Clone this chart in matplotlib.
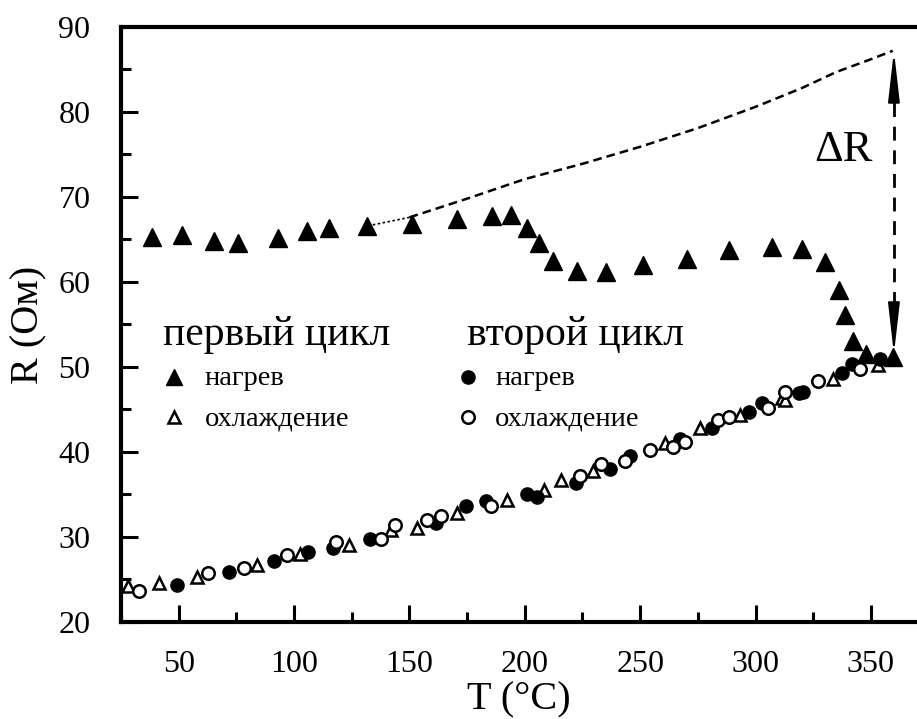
import numpy as np
import matplotlib.pyplot as plt
from matplotlib.ticker import MultipleLocator

plt.rcParams['font.family'] = ['Liberation Serif', 'DejaVu Serif']

# первый цикл, нагрев (закрашенные треугольники)
t1_heat = [38.4, 51.4, 65.3, 75.6, 93, 105.5, 115, 131.5, 151, 170.5, 186, 194, 201,
           206, 212.4, 222.8, 235.4, 251.4, 270.5, 288.6, 307, 320, 330, 336, 338.9,
           342.3, 348, 359.4]
r1_heat = [65.3, 65.5, 64.8, 64.6, 65.2, 66, 66.4, 66.6, 66.8, 67.4, 67.8, 67.9, 66.4,
           64.6, 62.5, 61.3, 61.2, 62, 62.7, 63.8, 64.1, 63.9, 62.4, 59, 56.1,
           53.1, 51.5, 51.2]

# первый цикл, охлаждение (пустые треугольники)
t1_cool = [27.9, 41.3, 57.9, 84.1, 102.6, 123.8, 141.9, 153.4, 170.7, 192.1, 208.5,
           215.5, 229.6, 260.9, 276.1, 293.4, 311.4, 312.9, 333.4, 353.3]
r1_cool = [24.2, 24.6, 25.3, 26.7, 28, 29.1, 30.8, 31, 32.8, 34.4, 35.5,
           36.7, 37.7, 41.1, 42.8, 44.4, 46.3, 46.1, 48.6, 50.2]

# второй цикл, нагрев (закрашенные кружки)
t2_heat = [49.2, 71.6, 91.4, 106.1, 117, 132.9, 161.4, 174.4, 183, 200.8, 205.1,
           222.4, 236.8, 245.4, 267.1, 281.1, 297, 302.8, 318.7, 320.6, 337.3, 341.7, 354]
r2_heat = [24.35, 25.9, 27.2, 28.2, 28.7, 29.8, 31.6, 33.6, 34.2, 35, 34.7,
           36.3, 38, 39.5, 41.5, 42.8, 44.7, 45.7, 46.9, 47.1, 49.3, 50.4, 50.9]

# второй цикл, охлаждение (пустые кружки)
t2_cool = [32.9, 62.5, 78.3, 96.9, 118, 137.8, 143.6, 157.7, 163.8, 185.2, 224.1,
           233.2, 243.6, 254.2, 264.4, 269.6, 283.6, 288.3, 305.6, 313, 327.2, 345.3]
r2_cool = [23.6, 25.7, 26.3, 27.9, 29.4, 29.7, 31.4, 32, 32.5, 33.6, 37.2,
           38.6, 38.9, 40.2, 40.6, 41.2, 43.8, 44.1, 45.2, 47, 48.3, 49.7]

# пунктирная экстраполяция
t_ext = [132, 150, 175, 200, 225, 250, 275, 300, 320, 335, 350, 359.5]
r_ext = [66.6, 67.6, 69.8, 72.1, 73.9, 75.9, 78.1, 80.6, 82.8, 84.7, 86.2, 87.2]

dr_t = 360
dr_low, dr_high = 51.5, 87.2

fig = plt.figure(figsize=(9.17, 7.19), dpi=100)
ax = fig.add_axes([0.132, 0.135, 0.868, 0.8275])

ax.plot(t1_heat, r1_heat, '^', color='k', ms=12.5, ls='none')
ax.plot(t1_cool, r1_cool, '^', mfc='white', mec='k', mew=1.8, ms=9, ls='none')
ax.plot(t2_heat, r2_heat, 'o', color='k', ms=9.5, ls='none')
ax.plot(t2_cool, r2_cool, 'o', mfc='white', mec='k', mew=1.8, ms=9, ls='none')

ax.plot(t_ext[:2], r_ext[:2], color='k', lw=1.2, ls=(0, (1.5, 1.5)))
ax.plot(t_ext[1:], r_ext[1:], color='k', lw=1.8, ls=(0, (3.5, 2)))

# стрелка ΔR
ax.plot([dr_t, dr_t], [dr_low + 3, dr_high - 3], color='k', lw=2, ls=(0, (5, 3.5)))
for y0, y1 in [(dr_high - 4, dr_high), (dr_low + 4, dr_low)]:
    ax.annotate('', xy=(dr_t, y1), xytext=(dr_t, y0),
                arrowprops=dict(arrowstyle='-|>,head_width=0.16,head_length=1.4',
                                color='k', lw=1.5, mutation_scale=22,
                                shrinkA=0, shrinkB=0))
ax.text(338, 75.5, 'ΔR', fontsize=32, ha='center', va='center')

# легенда
ax.text(0.053, 0.465, 'первый цикл', transform=ax.transAxes, fontsize=30, va='baseline')
ax.text(0.435, 0.465, 'второй цикл', transform=ax.transAxes, fontsize=30, va='baseline')
ax.plot([0.067], [0.412], '^', color='k', ms=11, transform=ax.transAxes)
ax.plot([0.067], [0.344], '^', mfc='white', mec='k', mew=1.8, ms=9, transform=ax.transAxes)
ax.plot([0.436], [0.412], 'o', color='k', ms=9.5, transform=ax.transAxes)
ax.plot([0.436], [0.344], 'o', mfc='white', mec='k', mew=1.8, ms=9, transform=ax.transAxes)
for x, y, s in [(0.105, 0.398, 'нагрев'), (0.105, 0.330, 'охлаждение'),
                (0.47, 0.398, 'нагрев'), (0.47, 0.330, 'охлаждение')]:
    ax.text(x, y, s, transform=ax.transAxes, fontsize=20.5, va='baseline')

ax.set_xlim(25, 370)
ax.set_ylim(20, 90)
ax.xaxis.set_major_locator(MultipleLocator(50))
ax.xaxis.set_minor_locator(MultipleLocator(25))
ax.yaxis.set_major_locator(MultipleLocator(10))
ax.yaxis.set_minor_locator(MultipleLocator(5))
ax.tick_params(which='both', direction='in', width=2.2, labelsize=23, top=False, right=False)
ax.tick_params(which='major', length=12)
ax.tick_params(which='minor', length=7)
ax.tick_params(axis='x', pad=20)
ax.tick_params(axis='y', pad=22)
ax.spines['right'].set_visible(False)
for s in ['left', 'bottom', 'top']:
    ax.spines[s].set_linewidth(3)

ax.set_xlabel('T (°C)', fontsize=29, labelpad=2)
ax.set_ylabel('R (Ом)', fontsize=29, labelpad=8)

fig.savefig('out.png', dpi=100)
